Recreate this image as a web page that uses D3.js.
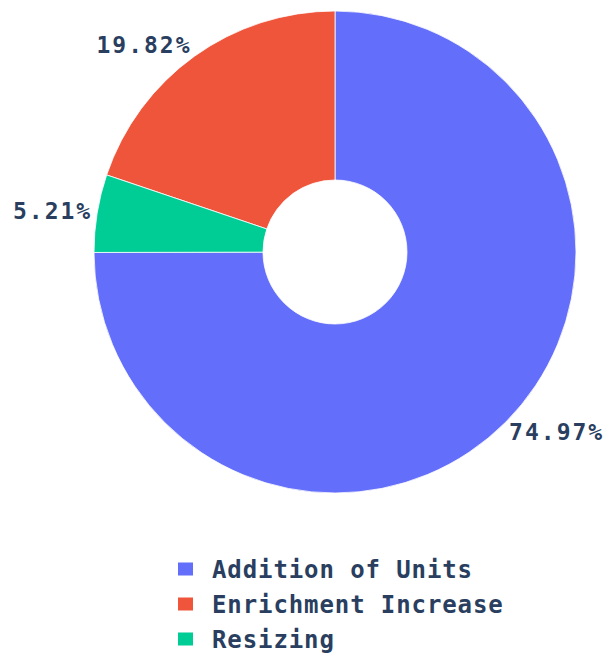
<!DOCTYPE html>
<html>
<head>
<meta charset="utf-8">
<script src="https://cdn.jsdelivr.net/npm/d3@7"></script>
<style>
  html, body { margin: 0; padding: 0; background: #fff; }
  svg text { font-family: "DejaVu Sans Mono", monospace; font-weight: bold; fill: #2a3f5f; }
</style>
</head>
<body>
<svg id="chart" width="604" height="658"></svg>
<script>
// Share of capacity change by type
const categories = ["Addition of Units", "Enrichment Increase", "Resizing"];
const shares = [74.97, 19.82, 5.21];
const colors = ["#636efa", "#EF553B", "#00cc96"];
// Slices run clockwise from 12 o'clock in this order
const sliceOrder = ["Addition of Units", "Resizing", "Enrichment Increase"];

const svg = d3.select("#chart");
const cx = 335, cy = 252, outerR = 241, innerR = 72;

const data = categories.map((c, i) => ({ c, v: shares[i], col: colors[i] }));
const pie = d3.pie()
  .sort((a, b) => sliceOrder.indexOf(a.c) - sliceOrder.indexOf(b.c))
  .value(d => d.v);
const arcs = pie(data);

const arc = d3.arc().innerRadius(innerR).outerRadius(outerR);
const g = svg.append("g").attr("transform", `translate(${cx},${cy})`);

g.selectAll("path.slice")
  .data(arcs)
  .join("path")
  .attr("class", "slice")
  .attr("d", arc)
  .attr("fill", d => d.data.col)
  .attr("stroke", "#fff")
  .attr("stroke-width", 0.8);

// Percentage labels outside each slice; the box corner nearest the slice
// sits on a ring just beyond the outer radius.
const labelR = outerR + 5;
const fs = 23, lh = 18;
g.selectAll("text.pct")
  .data(arcs)
  .join("text")
  .attr("class", "pct")
  .attr("font-size", fs)
  .attr("letter-spacing", 2)
  .attr("dy", "0.36em")
  .attr("text-anchor", d => {
    const mid = (d.startAngle + d.endAngle) / 2;
    return Math.sin(mid) >= 0 ? "start" : "end";
  })
  .attr("transform", d => {
    const mid = (d.startAngle + d.endAngle) / 2;
    const x = labelR * Math.sin(mid);
    const y = -labelR * Math.cos(mid) - Math.cos(mid) * lh / 2;
    return `translate(${x},${y})`;
  })
  .text(d => d3.format(".2f")(d.data.v) + "%");

// Legend
const legend = svg.append("g").attr("transform", "translate(178,569)");
const rowH = 35;
const items = legend.selectAll("g")
  .data(categories)
  .join("g")
  .attr("transform", (d, i) => `translate(0,${i * rowH})`);
items.append("rect")
  .attr("x", 0).attr("y", -6.5)
  .attr("width", 15).attr("height", 13)
  .attr("fill", (d, i) => colors[i]);
items.append("text")
  .attr("x", 34).attr("dy", "0.36em")
  .attr("font-size", 24)
  .attr("letter-spacing", 0.9)
  .text(d => d);
</script>
</body>
</html>
